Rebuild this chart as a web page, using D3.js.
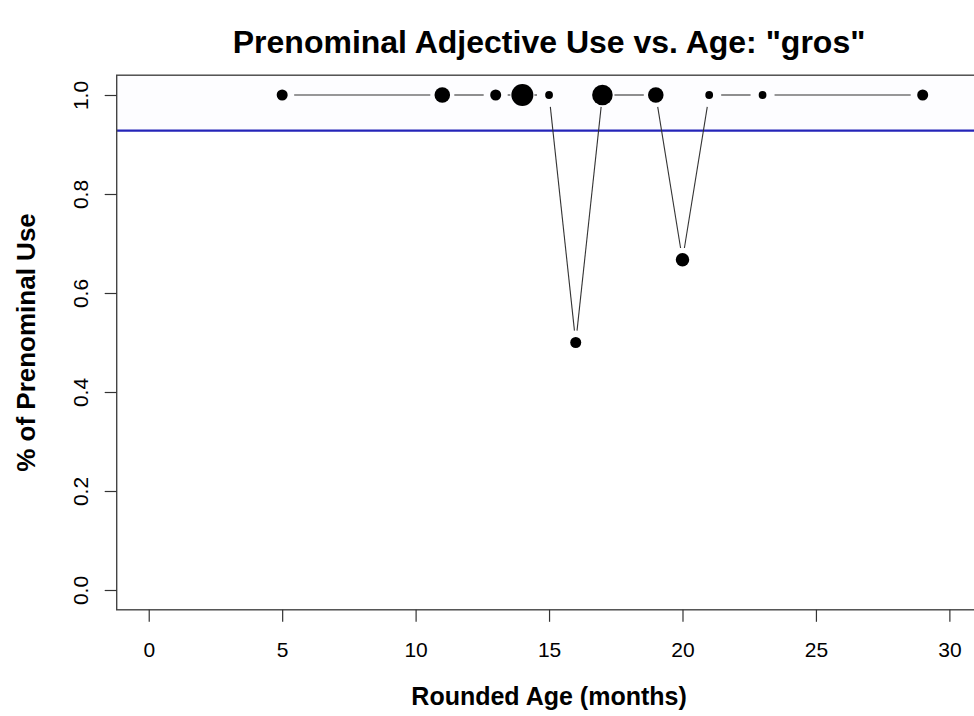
<!DOCTYPE html>
<html>
<head>
<meta charset="utf-8">
<script src="https://cdn.jsdelivr.net/npm/d3@7"></script>
<style>
  html, body { margin: 0; padding: 0; background: #fff; }
  svg text { font-family: "Liberation Sans", Arial, Helvetica, sans-serif; fill: #000; }
</style>
</head>
<body>
<svg id="chart" width="974" height="716"></svg>
<script>
// Data
const ages = [5, 11, 13, 14, 15, 16, 17, 19, 20, 21, 23, 29];
const prenominal = [1, 1, 1, 1, 1, 0.5, 1, 1, 0.667, 1, 1, 1];
const tokens = [2, 4, 2, 8, 1, 2, 7, 4, 3, 1, 1, 2];   // drives point size
const xTicks = [0, 5, 10, 15, 20, 25, 30];
const yTicks = [0, 0.2, 0.4, 0.6, 0.8, 1.0];
const overallRate = 0.928;

const titleText = 'Prenominal Adjective Use vs. Age: "gros"';
const xLabel = 'Rounded Age (months)';
const yLabel = '% of Prenominal Use';

// Layout
const layout = { left: 116.7, right: 981.4, top: 75.2, bottom: 609.8 };

const svg = d3.select('#chart');

// Scales (R style: limits padded by 4%)
const x = d3.scaleLinear().domain([-1.2, 31.2]).range([layout.left, layout.right]);
const y = d3.scaleLinear().domain([-0.04, 1.04]).range([layout.bottom, layout.top]);
const r = d3.scaleSqrt().domain([0, d3.max(tokens)]).range([0, 11]);

const points = ages.map(function(a, i) {
  return { age: a, value: prenominal[i], n: tokens[i] };
});

// Very faint band above the reference line
svg.append('rect')
  .attr('x', layout.left)
  .attr('y', layout.top)
  .attr('width', layout.right - layout.left)
  .attr('height', y(overallRate) - layout.top)
  .attr('fill', '#fdfdff');

// Reference line for overall rate
svg.append('line')
  .attr('x1', layout.left).attr('x2', layout.right)
  .attr('y1', y(overallRate)).attr('y2', y(overallRate))
  .attr('stroke', '#2424b8')
  .attr('stroke-width', 2.4);

// Connecting segments with gaps around the points (type = "b")
const gap = 12;
const segs = d3.pairs(points).map(function(p) {
  const x0 = x(p[0].age), y0 = y(p[0].value);
  const x1 = x(p[1].age), y1 = y(p[1].value);
  const len = Math.hypot(x1 - x0, y1 - y0);
  if (len <= 2 * gap) return null;
  const ux = (x1 - x0) / len, uy = (y1 - y0) / len;
  return [x0 + ux * gap, y0 + uy * gap, x1 - ux * gap, y1 - uy * gap];
}).filter(function(d) { return d; });

svg.append('g')
  .selectAll('line')
  .data(segs)
  .join('line')
  .attr('x1', function(d) { return d[0]; })
  .attr('y1', function(d) { return d[1]; })
  .attr('x2', function(d) { return d[2]; })
  .attr('y2', function(d) { return d[3]; })
  .attr('stroke', '#333')
  .attr('stroke-width', 1.1);

// Points
svg.append('g')
  .selectAll('circle')
  .data(points)
  .join('circle')
  .attr('cx', function(d) { return x(d.age); })
  .attr('cy', function(d) { return y(d.value); })
  .attr('r', function(d) { return r(d.n); })
  .attr('fill', '#000');

// Plot box
svg.append('rect')
  .attr('x', layout.left)
  .attr('y', layout.top)
  .attr('width', layout.right - layout.left)
  .attr('height', layout.bottom - layout.top)
  .attr('fill', 'none')
  .attr('stroke', '#444')
  .attr('stroke-width', 1.4);

// X axis
const xAxis = svg.append('g')
  .attr('transform', 'translate(0,' + layout.bottom + ')')
  .call(d3.axisBottom(x).tickValues(xTicks).tickSize(12).tickPadding(0).tickSizeOuter(0));
xAxis.select('.domain').remove();
xAxis.selectAll('.tick line').attr('stroke', '#333').attr('stroke-width', 1.2);
xAxis.selectAll('.tick text')
  .attr('y', 47)
  .attr('dy', null)
  .style('font-size', '21px')
  .style('font-family', '"Liberation Sans", Arial, sans-serif');

// Y axis
const yAxis = svg.append('g')
  .attr('transform', 'translate(' + layout.left + ',0)')
  .call(d3.axisLeft(y).tickValues(yTicks).tickFormat(d3.format('.1f')).tickSize(12).tickSizeOuter(0));
yAxis.select('.domain').remove();
yAxis.selectAll('.tick line').attr('stroke', '#333').attr('stroke-width', 1.2);
yAxis.selectAll('.tick text')
  .attr('x', null)
  .attr('dy', null)
  .attr('text-anchor', 'middle')
  .attr('transform', 'translate(-29,0) rotate(-90)')
  .style('font-size', '21px')
  .style('font-family', '"Liberation Sans", Arial, sans-serif');

// Titles
svg.append('text')
  .attr('x', (layout.left + layout.right) / 2)
  .attr('y', 53)
  .attr('text-anchor', 'middle')
  .style('font-size', '32px')
  .style('font-weight', 'bold')
  .text(titleText);

svg.append('text')
  .attr('x', (layout.left + layout.right) / 2)
  .attr('y', 705)
  .attr('text-anchor', 'middle')
  .style('font-size', '25px')
  .style('font-weight', 'bold')
  .text(xLabel);

svg.append('text')
  .attr('transform', 'translate(35,' + (layout.top + layout.bottom) / 2 + ') rotate(-90)')
  .attr('text-anchor', 'middle')
  .style('font-size', '26px')
  .style('font-weight', 'bold')
  .text(yLabel);
</script>
</body>
</html>
